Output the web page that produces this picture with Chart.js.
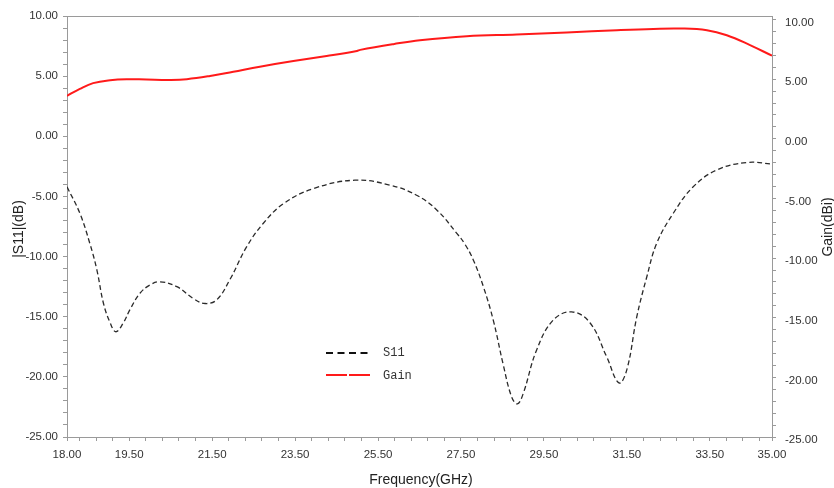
<!DOCTYPE html>
<html>
<head>
<meta charset="utf-8">
<script src="https://cdn.jsdelivr.net/npm/chart.js@4.4.0/dist/chart.umd.min.js"></script>
<style>
  body { margin: 0; background: #fff; }
  #wrap { width: 834px; height: 488px; position: relative; }
</style>
</head>
<body>
<div id="wrap"><canvas id="myChart"></canvas></div>
<script>
// S11 (left axis, dB)
const s11Freq = [18.0, 18.31, 18.55, 18.72, 18.88, 19.04, 19.18, 19.36, 19.52, 19.76, 20.0, 20.24, 20.65, 21.05, 21.33, 21.61, 21.93,
  22.33, 22.73, 23.22, 23.94, 24.94, 25.79, 26.43, 26.91, 27.40, 27.60, 27.80, 28.04, 28.28, 28.52, 28.72, 28.86, 29.0,
  29.32, 29.72, 30.17, 30.61, 31.01, 31.31, 31.50, 31.74, 31.98, 32.22, 32.62, 33.10, 33.67, 34.39, 35.0];
const s11 = [-4.2, -6.4, -8.9, -11.1, -13.9, -15.5, -16.25, -15.5, -14.4, -13.05, -12.36, -12.1, -12.5, -13.5, -13.9, -13.6, -11.9,
  -9.2, -7.25, -5.6, -4.35, -3.65, -4.06, -4.9, -6.1, -8.07, -9.0, -10.3, -12.5, -15.3, -19.0, -21.65, -22.25, -21.4,
  -17.8, -15.3, -14.6, -15.5, -18.3, -20.5, -19.4, -15.0, -11.7, -8.9, -6.4, -4.2, -2.8, -2.18, -2.3];

// Gain (right axis, dBi)
const gainFreq = [18.0, 18.31, 18.63, 19.04, 19.44, 19.92, 20.48, 20.89, 21.45, 22.01, 22.65, 23.46, 24.26, 24.99, 25.07,
  25.87, 26.51, 27.64, 28.84, 30.05, 31.26, 32.14, 32.79, 33.43, 33.91, 34.47, 35.0];
const gain = [3.61, 4.19, 4.67, 4.92, 5.0, 4.97, 4.94, 5.0, 5.27, 5.63, 6.05, 6.52, 6.94, 7.36, 7.46,
  7.94, 8.27, 8.61, 8.75, 8.92, 9.11, 9.22, 9.25, 9.11, 8.69, 7.86, 6.97];

// tick labels
const xLabels = [18, 19.5, 21.5, 23.5, 25.5, 27.5, 29.5, 31.5, 33.5, 35];
const yLabels = [10, 5, 0, -5, -10, -15, -20, -25];

const r2 = v => Math.round(v * 100) / 100;

function xTicks(scale) {
  const t = [{ value: 18 }];
  for (let k = -3; k <= 38; k++) t.push({ value: r2(19.5 + 0.4 * k) });
  t.push({ value: 35 });
  scale.ticks = t;
}
function yTicks(scale) {
  const t = [];
  for (let v = -25; v <= 10; v++) t.push({ value: v });
  scale.ticks = t;
}

Chart.defaults.font.family = '"Liberation Sans", Arial, sans-serif';
Chart.defaults.font.size = 11.5;
Chart.defaults.color = '#333';

const axisGray = '#9a9a9a';

const extras = {
  id: 'extras',
  afterDraw(chart) {
    const { ctx, chartArea: a } = chart;
    ctx.save();
    // top frame line
    ctx.strokeStyle = axisGray;
    ctx.lineWidth = 1;
    ctx.beginPath();
    ctx.moveTo(a.left, a.top + 0.5);
    ctx.lineTo(a.right, a.top + 0.5);
    ctx.stroke();

    // axis titles
    ctx.fillStyle = '#222';
    ctx.font = '14px "Liberation Sans", Arial, sans-serif';
    ctx.textAlign = 'center';
    ctx.textBaseline = 'middle';
    ctx.fillText('Frequency(GHz)', 421, 480);
    ctx.save(); ctx.translate(19, 229); ctx.rotate(-Math.PI / 2); ctx.fillText('|S11|(dB)', 0, 0); ctx.restore();
    ctx.save(); ctx.translate(828, 227); ctx.rotate(-Math.PI / 2); ctx.fillText('Gain(dBi)', 0, 0); ctx.restore();

    // legend
    ctx.lineWidth = 2;
    ctx.strokeStyle = '#111';
    ctx.setLineDash([7, 4.5]);
    ctx.beginPath(); ctx.moveTo(326, 353); ctx.lineTo(372, 353); ctx.stroke();
    ctx.strokeStyle = '#ff1a1a';
    ctx.setLineDash([21, 2]);
    ctx.beginPath(); ctx.moveTo(326, 375); ctx.lineTo(371, 375); ctx.stroke();
    ctx.setLineDash([]);
    ctx.fillStyle = '#333';
    ctx.font = '12px "Liberation Mono", monospace';
    ctx.textAlign = 'left';
    ctx.fillText('S11', 383, 353);
    ctx.fillText('Gain', 383, 376);
    ctx.restore();
  }
};

const ctx = document.getElementById('myChart').getContext('2d');
const chart = new Chart(ctx, {
  type: 'line',
  data: {
    datasets: [{
      label: 'S11',
      data: s11Freq.map((f, i) => ({ x: f, y: s11[i] })),
      borderColor: '#2a2a2a',
      borderWidth: 1.3,
      borderDash: [5, 3],
      pointRadius: 0,
      tension: 0.4,
      yAxisID: 'y'
    }, {
      label: 'Gain',
      data: gainFreq.map((f, i) => ({ x: f, y: gain[i] })),
      borderColor: '#ff1a1a',
      borderWidth: 2,
      pointRadius: 0,
      tension: 0.4,
      yAxisID: 'y1'
    }]
  },
  options: {
    responsive: true,
    maintainAspectRatio: false,
    animation: false,
    layout: { padding: { top: 16, left: 0, right: 0, bottom: 0 } },
    plugins: { legend: { display: false }, tooltip: { enabled: false } },
    scales: {
      x: {
        type: 'linear',
        min: 18,
        max: 35,
        afterBuildTicks: xTicks,
        afterFit: s => { s.height = 51; },
        grid: { drawOnChartArea: false, tickLength: 4, color: axisGray },
        border: { color: axisGray },
        ticks: {
          autoSkip: false,
          maxRotation: 0,
          padding: 7,
          callback: v => xLabels.includes(r2(v)) ? v.toFixed(2) : ''
        }
      },
      y: {
        position: 'left',
        min: -25,
        max: 10,
        afterBuildTicks: yTicks,
        afterFit: s => { s.width = 67; },
        grid: { drawOnChartArea: false, tickLength: 4, color: axisGray },
        border: { color: axisGray },
        ticks: {
          autoSkip: false,
          padding: 5,
          callback: v => yLabels.includes(v) ? v.toFixed(2) : ''
        }
      },
      y1: {
        position: 'right',
        min: -25,
        max: 10.3,
        afterBuildTicks: yTicks,
        afterFit: s => { s.width = 62; },
        grid: { drawOnChartArea: false, tickLength: 4, color: axisGray },
        border: { color: axisGray },
        ticks: {
          autoSkip: false,
          padding: 9,
          labelOffset: 3,
          callback: v => yLabels.includes(v) ? v.toFixed(2) : ''
        }
      }
    }
  },
  plugins: [extras]
});
</script>
</body>
</html>
